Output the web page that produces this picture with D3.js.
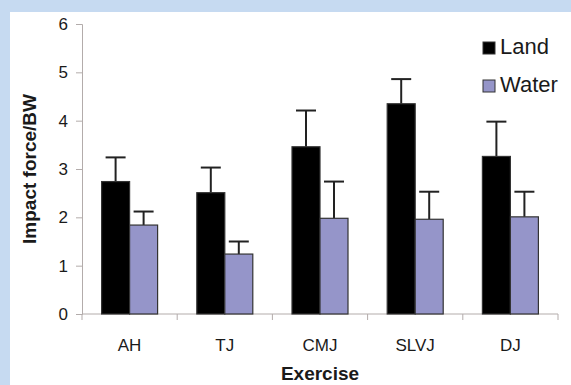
<!DOCTYPE html>
<html>
<head>
<meta charset="utf-8">
<script src="https://cdn.jsdelivr.net/npm/d3@7"></script>
<style>
  body { margin: 0; background: #c6daf1; }
  svg { display: block; font-family: Arial, "Liberation Sans", sans-serif; }
</style>
</head>
<body>
<script>
const width = 571;
const height = 385;

const exercises = ["AH", "TJ", "CMJ", "SLVJ", "DJ"];
const series = ["Land", "Water"];
const landMean = [2.74, 2.51, 3.46, 4.35, 3.26];
const landSd = [0.50, 0.52, 0.75, 0.51, 0.72];
const waterMean = [1.84, 1.24, 1.98, 1.96, 2.01];
const waterSd = [0.28, 0.26, 0.76, 0.57, 0.52];
const yTicks = [0, 1, 2, 3, 4, 5, 6];
const colors = ["#000000", "#9595c9"];

const margin = { left: 82, right: 13, top: 24, bottom: 71 };

const svg = d3.select("body")
  .append("svg")
  .attr("width", width)
  .attr("height", height);

// white panel
svg.append("rect")
  .attr("x", 10)
  .attr("y", 12)
  .attr("width", width - 10)
  .attr("height", height - 12)
  .attr("fill", "#ffffff");

const x = d3.scaleBand()
  .domain(exercises)
  .range([margin.left, width - margin.right]);

const x1 = d3.scaleBand()
  .domain(series)
  .range([0, x.bandwidth()])
  .paddingInner(0)
  .paddingOuter(0.7);

const y = d3.scaleLinear()
  .domain([0, 6])
  .range([height - margin.bottom, margin.top]);

const rows = exercises.flatMap((e, i) => [
  { ex: e, s: "Land", v: landMean[i], sd: landSd[i] },
  { ex: e, s: "Water", v: waterMean[i], sd: waterSd[i] }
]);

const axisColor = "#b3acab";

// y axis
const yAxis = svg.append("g")
  .attr("transform", `translate(${margin.left},0)`)
  .call(d3.axisLeft(y).tickValues(yTicks).tickFormat(d3.format("d")).tickSize(6).tickPadding(8));
yAxis.select(".domain").attr("stroke", axisColor);
yAxis.selectAll(".tick line").attr("stroke", axisColor);
yAxis.selectAll(".tick text")
  .attr("font-size", 17)
  .attr("fill", "#1a1a1a")
  .attr("font-family", "Arial, 'Liberation Sans', sans-serif");

// x axis line + ticks between categories
const x0 = y(0);
svg.append("line")
  .attr("x1", margin.left).attr("x2", width - margin.right)
  .attr("y1", x0).attr("y2", x0)
  .attr("stroke", axisColor);

svg.append("g")
  .selectAll("line")
  .data(exercises.map((d) => x(d)).concat([x(exercises[4]) + x.bandwidth()]))
  .join("line")
  .attr("x1", (d) => d).attr("x2", (d) => d)
  .attr("y1", x0).attr("y2", x0 + 6)
  .attr("stroke", axisColor);

svg.append("g")
  .selectAll("text")
  .data(exercises)
  .join("text")
  .attr("x", (d) => x(d) + x.bandwidth() / 2)
  .attr("y", 351)
  .attr("text-anchor", "middle")
  .attr("font-size", 17)
  .attr("fill", "#1a1a1a")
  .text((d) => d);

// error bars (drawn behind bars)
const err = svg.append("g")
  .attr("stroke", "#222")
  .attr("stroke-width", 2);

err.selectAll("line.v")
  .data(rows)
  .join("line")
  .attr("class", "v")
  .attr("x1", (d) => x(d.ex) + x1(d.s) + x1.bandwidth() / 2)
  .attr("x2", (d) => x(d.ex) + x1(d.s) + x1.bandwidth() / 2)
  .attr("y1", (d) => y(d.v))
  .attr("y2", (d) => y(d.v + d.sd));

err.selectAll("line.c")
  .data(rows)
  .join("line")
  .attr("class", "c")
  .attr("x1", (d) => x(d.ex) + x1(d.s) + x1.bandwidth() / 2 - 10)
  .attr("x2", (d) => x(d.ex) + x1(d.s) + x1.bandwidth() / 2 + 10)
  .attr("y1", (d) => y(d.v + d.sd))
  .attr("y2", (d) => y(d.v + d.sd));

// bars
svg.append("g")
  .selectAll("rect")
  .data(rows)
  .join("rect")
  .attr("x", (d) => x(d.ex) + x1(d.s))
  .attr("y", (d) => y(d.v))
  .attr("width", x1.bandwidth())
  .attr("height", (d) => y(0) - y(d.v))
  .attr("fill", (d) => colors[series.indexOf(d.s)])
  .attr("stroke", "#333")
  .attr("stroke-width", 1.2);

// legend
const legend = svg.append("g")
  .selectAll("g")
  .data(series)
  .join("g")
  .attr("transform", (d, i) => `translate(483,${42 + i * 38})`);

legend.append("rect")
  .attr("width", 12)
  .attr("height", 12)
  .attr("fill", (d, i) => colors[i])
  .attr("stroke", "#333");

legend.append("text")
  .attr("x", 17)
  .attr("y", 12)
  .attr("font-size", 22)
  .attr("fill", "#1a1a1a")
  .text((d) => d);

// axis titles
svg.append("text")
  .attr("x", (margin.left + width - margin.right) / 2)
  .attr("y", 380)
  .attr("text-anchor", "middle")
  .attr("font-size", 19)
  .attr("font-weight", "bold")
  .attr("fill", "#1a1a1a")
  .text("Exercise");

svg.append("text")
  .attr("transform", `translate(36,${(y(0) + y(6)) / 2}) rotate(-90)`)
  .attr("text-anchor", "middle")
  .attr("font-size", 19)
  .attr("font-weight", "bold")
  .attr("fill", "#1a1a1a")
  .text("Impact force/BW");
</script>
</body>
</html>
